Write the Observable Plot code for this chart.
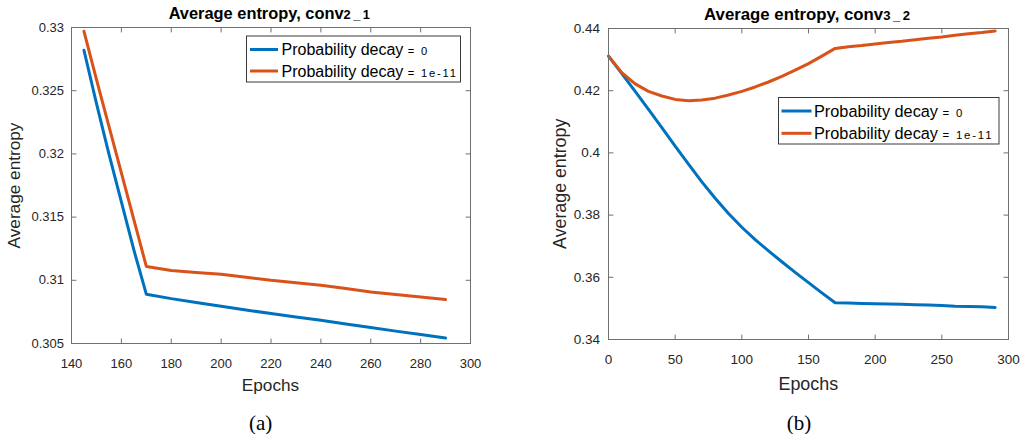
<!DOCTYPE html>
<html><head><meta charset="utf-8">
<script src="https://cdn.jsdelivr.net/npm/d3@7"></script>
<script src="https://cdn.jsdelivr.net/npm/@observablehq/plot@0.6"></script>
<style>
html,body{margin:0;padding:0;background:#fff;}
#wrap{position:relative;width:1020px;height:434px;overflow:hidden;background:#fff;}
#wrap svg{position:absolute;top:0;}
</style></head><body><div id="wrap"></div>
<script>
// ---- Data: panel (a) conv2_1 ----
const epochsA = [145,150,155,160,165,170,180,190,200,210,220,230,240,250,260,270,280,290];
const decay0A = [0.3282,0.3240,0.3200,0.3162,0.3124,0.3089,0.30855,0.30825,0.30795,0.30765,0.30737,0.3071,0.30684,0.30655,0.30626,0.30598,0.30572,0.30544];
const decay1A = [0.3297,0.3259,0.3222,0.3185,0.3148,0.3111,0.31078,0.31062,0.31047,0.31025,0.31000,0.30981,0.30961,0.30935,0.30908,0.30887,0.30867,0.30848];
const xTicksA = [140,160,180,200,220,240,260,280,300];
const yTicksA = [0.305,0.31,0.315,0.32,0.325,0.33];

// ---- Data: panel (b) conv3_2 ----
const epochsB = [0,10,20,30,40,50,60,70,80,90,100,110,120,130,140,150,160,170,180,190,200,210,220,230,240,250,260,270,280,290];
const decay0B = [0.4311,0.4255,0.4198,0.4140,0.4081,0.4022,0.3964,0.3907,0.3854,0.3805,0.3761,0.3721,0.3685,0.3650,0.3616,0.3583,0.3550,0.3518,0.3517,0.3516,0.3515,0.3514,0.3513,0.3512,0.3511,0.3509,0.3507,0.3506,0.3505,0.3503];
const decay1B = [0.4311,0.4258,0.4222,0.4198,0.4183,0.4172,0.4168,0.4170,0.4176,0.4186,0.4198,0.4212,0.4228,0.4246,0.4266,0.4287,0.4311,0.4336,0.4341,0.4345,0.4350,0.4355,0.4359,0.4364,0.4369,0.4373,0.4378,0.4383,0.4387,0.4392];
const xTicksB = [0,50,100,150,200,250,300];
const yTicksB = [0.34,0.36,0.38,0.40,0.42,0.44];

// ---- Text ----
const titleMain = "Average entropy, conv";
const titleSubs = ["2_1", "3_2"];
const legendLabel = "Probability decay";
const legendValues = ["= 0", "= 1e-11"];
const yLabel = "Average entropy";
const xLabel = "Epochs";
const captions = ["(a)", "(b)"];
const colors = ["#0072BD", "#D95319"];

const frameColor = "#707070";
const textColor = "#262626";
const sans = "'Liberation Sans', Arial, Helvetica, sans-serif";
const tickShape = {draw(context, l) { context.moveTo(0, 0); context.lineTo(0, -l); }};
const fmt = d3.format("~g");

const wrap = document.getElementById("wrap");

function panel(cfg) {
  const rows = (ep, vals) => ep.map((e, i) => ({epoch: e, value: vals[i]}));
  const tick = {length: 4.5, anchor: "start", shape: tickShape, stroke: frameColor, strokeWidth: 1};
  const chart = Plot.plot({
    width: 510, height: 400,
    marginLeft: cfg.m[0], marginTop: cfg.m[1], marginRight: cfg.m[2], marginBottom: cfg.m[3],
    style: {fontFamily: sans, fontSize: cfg.tickFs + "px", color: textColor, background: "transparent", overflow: "visible"},
    x: {domain: cfg.xDomain},
    y: {domain: cfg.yDomain},
    marks: [
      Plot.line(rows(cfg.epochs, cfg.s0), {x: "epoch", y: "value", stroke: colors[0], strokeWidth: 3, strokeLinejoin: "round"}),
      Plot.line(rows(cfg.epochs, cfg.s1), {x: "epoch", y: "value", stroke: colors[1], strokeWidth: 3, strokeLinejoin: "round"}),
      Plot.frame({stroke: frameColor, strokeWidth: 1}),
      Plot.vector(cfg.xTicks, {x: d => d, frameAnchor: "bottom", rotate: 0, ...tick}),
      Plot.vector(cfg.xTicks, {x: d => d, frameAnchor: "top", rotate: 180, ...tick}),
      Plot.vector(cfg.yTicks, {y: d => d, frameAnchor: "left", rotate: 90, ...tick}),
      Plot.vector(cfg.yTicks, {y: d => d, frameAnchor: "right", rotate: -90, ...tick}),
      Plot.axisX(cfg.xTicks, {tickSize: 0, tickPadding: cfg.padX, tickFormat: fmt, label: null, fontSize: cfg.tickFs}),
      Plot.axisY(cfg.yTicks, {tickSize: 0, tickPadding: cfg.padY, tickFormat: fmt, label: null, fontSize: cfg.tickFs})
    ]
  });
  chart.style.left = cfg.left + "px";
  wrap.appendChild(chart);
}

panel({left: 0, m: [71, 27, 40, 57], xDomain: [140, 300], yDomain: [0.305, 0.33],
  epochs: epochsA, s0: decay0A, s1: decay1A, xTicks: xTicksA, yTicks: yTicksA, tickFs: 13, padX: 15, padY: 7.5});
panel({left: 510, m: [98, 28, 12, 61], xDomain: [0, 300], yDomain: [0.34, 0.44],
  epochs: epochsB, s0: decay0B, s1: decay1B, xTicks: xTicksB, yTicks: yTicksB, tickFs: 13.5, padX: 14.5, padY: 8.5});

// ---- Overlay text: titles, axis labels, legends, captions ----
const ov = d3.create("svg").attr("width", 1020).attr("height", 434)
  .style("left", "0px").style("pointer-events", "none")
  .attr("font-family", sans).attr("fill", textColor);

const layout = [
  {title: [270.5, 18.5, 16.4], xl: [270.5, 390.5, 17.2], yl: [19.5, 185.5, 17.2], cap: [260.7, 429.5],
   leg: {x: 246.5, y: 36, w: 214, h: 46, lx: [250, 278], ly: [49.5, 71], tx: 281.5, ty: [55.2, 76.5], fs: 16}},
  {title: [808.3, 19.5, 16.8], xl: [808.3, 389.5, 17.9], yl: [565.5, 183.8, 17.8], cap: [799, 429.5],
   leg: {x: 778.5, y: 97.5, w: 220.5, h: 46.5, lx: [781.5, 811.5], ly: [111, 133.3], tx: 814, ty: [117, 139.3], fs: 16.3}}
];

layout.forEach((L, i) => {
  const t = ov.append("text").attr("x", L.title[0]).attr("y", L.title[1]).attr("text-anchor", "middle")
    .attr("font-weight", "bold").attr("font-size", L.title[2]).attr("fill", "#000");
  t.append("tspan").text(titleMain);
  t.append("tspan").attr("font-size", L.title[2] * 0.78).attr("letter-spacing", 2.5).text(titleSubs[i]);

  ov.append("text").attr("x", L.xl[0]).attr("y", L.xl[1]).attr("text-anchor", "middle")
    .attr("font-size", L.xl[2]).text(xLabel);
  ov.append("text").attr("transform", `translate(${L.yl[0]},${L.yl[1]}) rotate(-90)`).attr("text-anchor", "middle")
    .attr("font-size", L.yl[2]).text(yLabel);

  ov.append("text").attr("x", L.cap[0]).attr("y", L.cap[1]).attr("text-anchor", "middle")
    .attr("font-family", "'Liberation Serif', 'Times New Roman', serif").attr("font-size", 21).attr("fill", "#000").text(captions[i]);

  const g = L.leg;
  ov.append("rect").attr("x", g.x).attr("y", g.y).attr("width", g.w).attr("height", g.h)
    .attr("fill", "#fff").attr("stroke", "#3a3a3a").attr("stroke-width", 1);
  [0, 1].forEach(k => {
    ov.append("line").attr("x1", g.lx[0]).attr("x2", g.lx[1]).attr("y1", g.ly[k]).attr("y2", g.ly[k])
      .attr("stroke", colors[k]).attr("stroke-width", 3);
    const lt = ov.append("text").attr("x", g.tx).attr("y", g.ty[k]).attr("font-size", g.fs).attr("fill", "#000");
    lt.append("tspan").text(legendLabel + " ");
    lt.append("tspan").attr("font-size", g.fs * 0.7).attr("letter-spacing", 1.8).text(legendValues[k]);
  });
});

wrap.appendChild(ov.node());
</script>
</body></html>
